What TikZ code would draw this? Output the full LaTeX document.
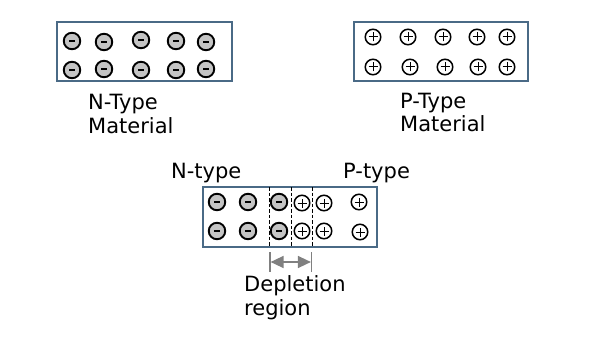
\documentclass[tikz,border=0pt]{standalone}
\usepackage{fontspec}
\setmainfont{DejaVu Sans}
\usetikzlibrary{arrows.meta}
\definecolor{boxc}{HTML}{4A6A86}
\definecolor{negc}{HTML}{C4C4C4}
\begin{document}
\begin{tikzpicture}[x=1pt,y=-1pt,
  slab/.style={draw=boxc, line width=1.8pt, fill=white},
  negcharge/.style={circle, draw=black, line width=1.9pt, fill=negc, minimum size=16.5pt, inner sep=0pt,
    path picture={\draw[line width=2.4pt] ([xshift=-3pt]path picture bounding box.center) -- ([xshift=3pt]path picture bounding box.center);}},
  poscharge/.style={circle, draw=black, line width=1.5pt, fill=white, minimum size=15.5pt, inner sep=0pt,
    path picture={\draw[line width=1pt] ([xshift=-4.5pt]path picture bounding box.center) -- ([xshift=4.5pt]path picture bounding box.center)
      ([yshift=-4.5pt]path picture bounding box.center) -- ([yshift=4.5pt]path picture bounding box.center);}},
  lbl/.style={font=\fontsize{21}{24}\selectfont, inner sep=0pt, text=black, anchor=base west},
  depl/.style={draw=black, line width=0.8pt, dash pattern=on 3.5pt off 2pt},
  dim/.style={draw=gray, line width=1.2pt},
  dimarrow/.style={draw=gray, line width=1.5pt, {Triangle[length=13pt,width=12pt]}-{Triangle[length=13pt,width=12pt]}}
]
\useasboundingbox (0,0) rectangle (600,345);
\fill[white] (0,0) rectangle (600,345);

% N-type material
\draw[slab] (57,22) rectangle (232,81);
\node[negcharge] (n11) at (72,41) {};
\node[negcharge] (n12) at (104,42) {};
\node[negcharge] (n13) at (141,40) {};
\node[negcharge] (n14) at (176,41) {};
\node[negcharge] (n15) at (206,42) {};
\node[negcharge] (n21) at (72,70) {};
\node[negcharge] (n22) at (104,69) {};
\node[negcharge] (n23) at (141,70) {};
\node[negcharge] (n24) at (176,70) {};
\node[negcharge] (n25) at (206,69) {};
\node[lbl] (nlab1) at (88,110) {N-Type};
\node[lbl] (nlab2) at (88,133.5) {Material};

% P-type material
\draw[slab] (354,22) rectangle (528,81);
\node[poscharge] (p11) at (373,37) {};
\node[poscharge] (p12) at (408,37) {};
\node[poscharge] (p13) at (443,37) {};
\node[poscharge] (p14) at (477,37) {};
\node[poscharge] (p15) at (507,37) {};
\node[poscharge] (p21) at (373,67) {};
\node[poscharge] (p22) at (410,67) {};
\node[poscharge] (p23) at (445,67) {};
\node[poscharge] (p24) at (478,67) {};
\node[poscharge] (p25) at (507,67) {};
\node[lbl] (plab1) at (400,108) {P-Type};
\node[lbl] (plab2) at (400,131.5) {Material};

% PN junction
\draw[slab] (203,187) rectangle (377,247);
\coordinate (d1t) at (269.5,187); \coordinate (d1b) at (269.5,247);
\coordinate (d2t) at (291,187); \coordinate (d2b) at (291,247);
\coordinate (d3t) at (312,187); \coordinate (d3b) at (312,247);
\draw[depl] (d1t) -- (d1b);
\draw[depl] (d2t) -- (d2b);
\draw[depl] (d3t) -- (d3b);
\node[negcharge] (j11) at (217,202) {};
\node[negcharge] (j12) at (248,202) {};
\node[negcharge] (j13) at (279,202) {};
\node[poscharge] (j14) at (302,203) {};
\node[poscharge] (j15) at (324,203) {};
\node[poscharge] (j16) at (359,202) {};
\node[negcharge] (j21) at (217,231) {};
\node[negcharge] (j22) at (248,231) {};
\node[negcharge] (j23) at (279,231) {};
\node[poscharge] (j24) at (302,231) {};
\node[poscharge] (j25) at (324,231) {};
\node[poscharge] (j26) at (360,232) {};
\node[lbl] (ntl) at (171,178.5) {N-type};
\node[lbl] (ptl) at (343,178.5) {P-type};

% depletion dimension
\coordinate (e1t) at (270,252); \coordinate (e1b) at (270,272);
\coordinate (e2t) at (311.5,252); \coordinate (e2b) at (311.5,272);
\draw[dim] (e1t) -- (e1b);
\draw[dim] (e2t) -- (e2b);
\coordinate (a1) at (270.6,262); \coordinate (a2) at (310.9,262);
\draw[dimarrow] (a1) -- (a2);
\node[lbl] (dlab1) at (244,291.5) {Depletion};
\node[lbl] (dlab2) at (244,315) {region};
\end{tikzpicture}
\end{document}
